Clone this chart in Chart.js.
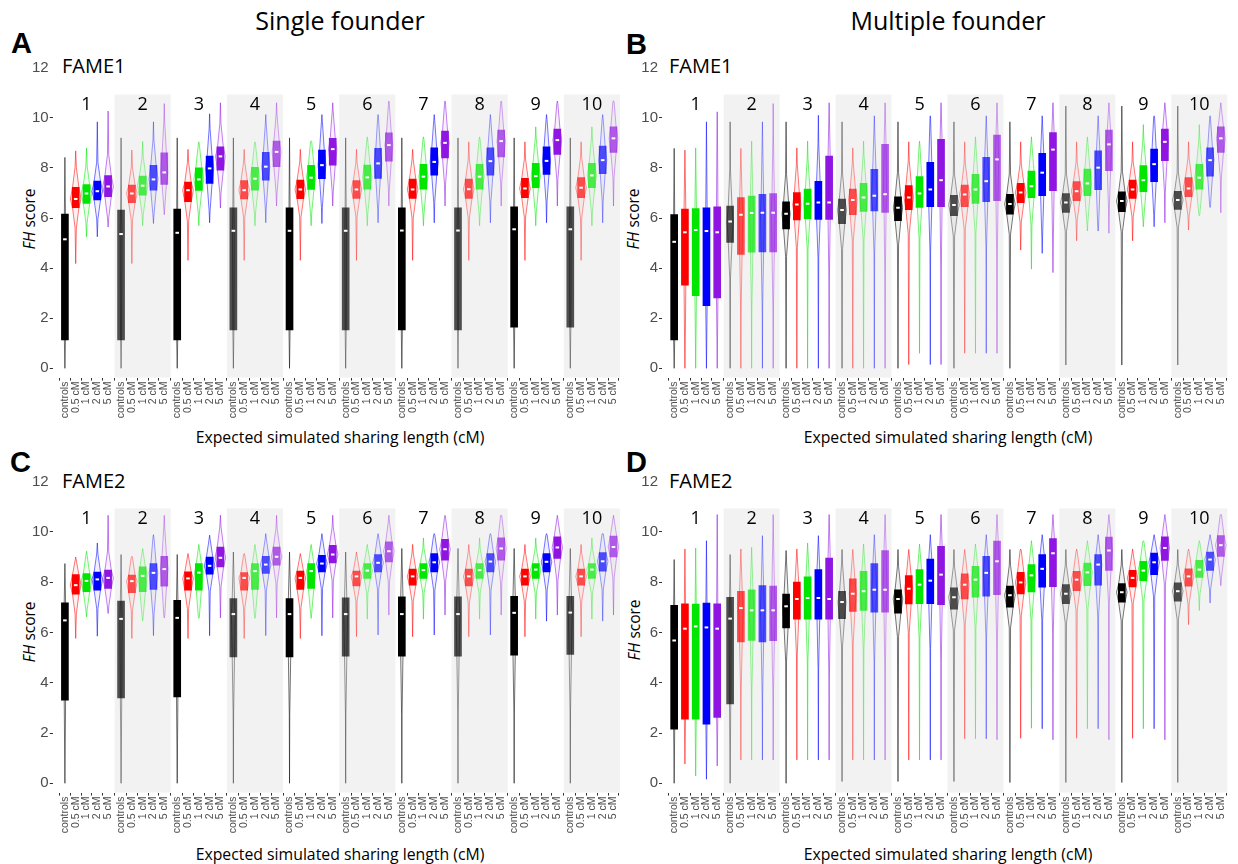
<!DOCTYPE html>
<html lang="en">
<head>
<meta charset="UTF-8">
<title>FH score by expected simulated sharing length</title>
<script src="https://cdn.jsdelivr.net/npm/chart.js"></script>
<style>
  body { margin: 0; background: #fff; }
  .page { position: relative; width: 1238px; height: 864px; overflow: hidden; font-family: "Open Sans", sans-serif; }
  .panel { position: absolute; }
  .txt { position: absolute; white-space: nowrap; color: #000; line-height: 1; }
  .head { font-size: 25px; transform: translateX(-50%); }
  .letter { font-family: "Liberation Sans", Arial, sans-serif; font-weight: bold; font-size: 29px; }
  .fame { font-size: 20px; }
  .ytitle { font-size: 15.5px; transform: translate(-50%, -50%) rotate(-90deg); }
  .xtitle { font-size: 15.8px; transform: translate(-50%, -50%); }
</style>
</head>
<body>
<div class="page" id="page">
  <div class="txt head" style="left:340px; top:8px">Single founder</div>
  <div class="txt head" style="left:948px; top:8px">Multiple founder</div>

  <div class="txt letter" style="left:11px; top:29px">A</div>
  <div class="txt letter" style="left:626px; top:30px">B</div>
  <div class="txt letter" style="left:10px; top:448px">C</div>
  <div class="txt letter" style="left:626px; top:448px">D</div>

  <div class="txt fame" style="left:62px; top:56px">FAME1</div>
  <div class="txt fame" style="left:669px; top:56px">FAME1</div>
  <div class="txt fame" style="left:62px; top:471px">FAME2</div>
  <div class="txt fame" style="left:669px; top:471px">FAME2</div>

  <div class="txt ytitle" style="left:30px; top:219px"><i>FH</i> score</div>
  <div class="txt ytitle" style="left:634px; top:219px"><i>FH</i> score</div>
  <div class="txt ytitle" style="left:30px; top:632px"><i>FH</i> score</div>
  <div class="txt ytitle" style="left:635px; top:630px"><i>FH</i> score</div>

  <div class="txt xtitle" style="left:340px; top:438px">Expected simulated sharing length (cM)</div>
  <div class="txt xtitle" style="left:948px; top:438px">Expected simulated sharing length (cM)</div>
  <div class="txt xtitle" style="left:340px; top:855px">Expected simulated sharing length (cM)</div>
  <div class="txt xtitle" style="left:948px; top:855px">Expected simulated sharing length (cM)</div>
</div>

<script>
// groups (facets) and categories inside each group
const groups = ['1', '2', '3', '4', '5', '6', '7', '8', '9', '10'];
const categories = ['controls', '0.5 cM', '1 cM', '2 cM', '5 cM'];
const yTicks = [0, 2, 4, 6, 8, 10, 12];

// each array: 10 groups x 5 categories (controls, 0.5, 1, 2, 5 cM)
// Panel A - single founder, FAME1
const aQ1 = [1.13,6.41,6.58,6.72,6.85, 1.13,6.61,6.91,7.11,7.34, 1.13,6.65,7.10,7.38,7.91, 1.53,6.76,7.11,7.51,8.05, 1.53,6.77,7.14,7.57,8.11,
             1.53,6.78,7.15,7.58,8.27, 1.53,6.78,7.15,7.71,8.40, 1.53,6.78,7.15,7.71,8.44, 1.64,6.81,7.21,7.74,8.54, 1.64,6.81,7.21,7.77,8.62];
const aMed = [5.15,6.76,6.98,7.07,7.26, 5.36,6.98,7.29,7.54,7.82, 5.41,7.11,7.54,7.98,8.46, 5.49,7.11,7.57,8.05,8.64, 5.49,7.14,7.61,8.11,8.75,
              5.49,7.14,7.62,8.18,8.91, 5.50,7.14,7.65,8.24,9.00, 5.50,7.15,7.65,8.27,9.07, 5.55,7.18,7.67,8.28,9.11, 5.55,7.21,7.70,8.31,9.18];
const aQ3 = [6.16,7.22,7.33,7.47,7.69, 6.32,7.31,7.67,8.10,8.60, 6.36,7.43,8.00,8.47,8.84, 6.41,7.49,8.02,8.62,9.07, 6.41,7.51,8.10,8.71,9.18,
             6.41,7.49,8.11,8.78,9.40, 6.41,7.55,8.14,8.80,9.47, 6.41,7.55,8.14,8.80,9.51, 6.45,7.58,8.18,8.84,9.55, 6.45,7.61,8.18,8.87,9.64];
const aLo = [0,4.18,5.25,5.25,5.64, 0,4.18,5.69,5.78,6.13, 0,4.31,5.69,5.81,6.40, 0,4.31,5.69,5.81,6.48, 0,4.31,5.69,5.78,6.48,
             0,4.31,5.69,5.81,6.48, 0,4.31,5.69,5.81,6.48, 0,4.31,5.69,5.81,6.48, 0,4.31,5.69,5.81,6.48, 0,4.31,5.69,5.81,6.48];
const aHi = [8.42,8.68,8.80,9.84,10.27, 9.20,8.71,9.06,9.84,10.57, 9.20,8.74,9.04,10.16,10.60, 9.20,8.74,9.04,10.13,10.60, 9.20,8.74,9.08,10.13,10.60,
             9.20,8.74,9.24,10.13,10.67, 9.20,8.74,9.24,10.13,10.67, 9.20,9.04,9.24,10.13,10.67, 9.20,9.04,9.64,10.13,10.67, 9.20,9.04,9.64,10.13,10.67];

// Panel B - multiple founder, FAME1
const bQ1 = [1.13,3.32,2.90,2.50,2.81, 5.03,4.55,4.64,4.65,4.65, 5.56,5.92,5.97,5.94,5.94, 5.77,6.13,6.26,6.28,6.22, 5.89,6.33,6.42,6.45,6.45,
             6.09,6.45,6.58,6.65,6.69, 6.15,6.61,6.81,6.89,7.09, 6.22,6.69,6.89,7.13,7.89, 6.25,6.78,7.05,7.45,8.29, 6.34,6.85,7.15,7.67,8.62];
const bMed = [5.05,5.43,5.52,5.48,5.43, 5.86,6.13,6.20,6.21,6.21, 6.17,6.54,6.57,6.62,6.62, 6.32,6.72,6.82,6.89,6.95, 6.41,6.82,6.98,7.14,7.51,
              6.52,6.94,7.14,7.47,8.34, 6.56,7.02,7.27,7.81,8.73, 6.62,7.07,7.38,8.01,8.94, 6.68,7.14,7.51,8.15,9.04, 6.72,7.18,7.61,8.31,9.18];
const bQ3 = [6.14,6.36,6.38,6.41,6.45, 6.48,6.82,6.88,6.95,6.98, 6.65,7.02,7.15,7.46,8.47, 6.76,7.15,7.38,7.94,8.94, 6.85,7.29,7.65,8.22,9.14,
             6.91,7.31,7.74,8.42,9.31, 6.95,7.38,7.87,8.58,9.41, 6.98,7.45,7.95,8.68,9.51, 7.05,7.51,8.09,8.75,9.55, 7.07,7.61,8.14,8.80,9.64];
const bLo = [0,0,0,0,0, 0,0,0,0,0, 0,0,0,0,0, 0,0,0,0,0, 0,0.15,0.60,0.15,0.15,
             0,0.60,0.60,0.60,0.60, 0,4.72,3.96,4.59,3.82, 0.13,5.09,5.48,5.48,5.39, 0.13,5.09,5.65,5.65,5.81, 0.13,5.52,6.09,6.42,6.21];
const bHi = [8.78,8.71,8.80,9.84,10.24, 9.84,8.78,9.07,9.84,10.57, 9.84,8.80,9.07,10.10,10.60, 9.84,8.80,9.07,10.08,10.60, 9.84,9.04,9.07,10.08,10.60,
             9.84,9.04,9.24,10.08,10.60, 9.84,9.04,9.24,10.08,10.60, 10.47,9.04,9.24,10.08,10.60, 10.47,9.04,9.73,10.08,10.60, 10.47,9.04,9.73,10.08,10.60];

// Panel C - single founder, FAME2
const cQ1 = [3.31,7.52,7.62,7.68,7.75, 3.40,7.58,7.62,7.71,7.84, 3.44,7.68,7.68,8.32,8.61, 5.03,7.68,7.71,8.35,8.68, 5.03,7.71,7.75,8.41,8.77,
             5.06,7.85,8.15,8.41,8.81, 5.06,7.88,8.15,8.41,8.87, 5.06,7.85,8.15,8.41,8.87, 5.10,7.88,8.15,8.41,8.94, 5.13,7.88,8.15,8.44,9.00];
const cMed = [6.48,7.88,8.05,8.11,8.17, 6.54,8.04,8.25,8.37,8.52, 6.58,8.15,8.38,8.65,8.97, 6.73,8.17,8.44,8.70,9.01, 6.73,8.17,8.44,8.74,9.10,
              6.73,8.23,8.46,8.77,9.23, 6.73,8.23,8.48,8.79,9.31, 6.73,8.23,8.48,8.82,9.34, 6.78,8.23,8.50,8.81,9.38, 6.79,8.23,8.50,8.83,9.40];
const cQ3 = [7.18,8.30,8.34,8.40,8.48, 7.25,8.28,8.61,8.74,9.03, 7.28,8.41,8.74,9.00,9.40, 7.35,8.38,8.74,9.03,9.40, 7.35,8.44,8.74,9.07,9.47,
             7.38,8.44,8.74,9.10,9.60, 7.42,8.52,8.74,9.14,9.70, 7.42,8.52,8.74,9.14,9.76, 7.44,8.52,8.74,9.14,9.80, 7.44,8.52,8.74,9.18,9.83];
const cLo = [0,5.76,6.62,5.85,6.75, 0,5.76,6.46,5.87,6.58, 0,5.76,6.56,5.87,6.58, 0,5.76,6.56,5.87,6.58, 0,5.76,6.56,5.87,6.58,
             0,5.83,6.53,5.90,6.69, 0,5.83,6.53,5.90,6.69, 0,5.83,6.53,5.90,6.69, 0,5.83,6.53,6.45,6.69, 0,5.83,6.53,6.45,6.69];
const cHi = [8.74,9.00,9.23,9.56,10.66, 9.10,9.03,9.34,9.89,10.66, 9.10,9.14,9.50,9.87,10.66, 9.20,9.14,9.50,9.93,10.66, 9.20,9.14,9.50,9.93,10.66,
             9.20,9.20,9.50,9.93,10.66, 9.34,9.50,9.76,9.93,10.66, 9.34,9.50,9.76,9.93,10.66, 9.34,9.50,9.76,9.93,10.66, 9.34,9.50,9.76,9.93,10.66];

// Panel D - multiple founder, FAME2
const dQ1 = [2.15,2.55,2.55,2.35,2.62, 3.16,5.62,5.68,5.62,5.67, 6.18,6.53,6.53,6.53,6.53, 6.55,6.84,6.88,6.81,6.81, 6.77,7.13,7.14,7.14,7.10,
             6.93,7.33,7.40,7.44,7.50, 7.01,7.53,7.61,7.80,7.82, 7.14,7.66,7.86,7.88,8.47, 7.20,7.81,8.06,8.30,8.86, 7.24,7.84,8.19,8.47,9.02];
const dMed = [5.68,6.15,6.24,6.20,6.15, 6.55,6.97,6.88,6.88,6.88, 7.04,7.33,7.37,7.37,7.33, 7.21,7.54,7.64,7.70,7.70, 7.33,7.74,7.90,8.06,8.30,
              7.40,7.90,8.10,8.37,8.83, 7.48,7.99,8.27,8.53,9.15, 7.54,8.10,8.39,8.70,9.26, 7.60,8.17,8.46,8.79,9.36, 7.64,8.23,8.50,8.90,9.47];
const dQ3 = [7.08,7.14,7.13,7.17,7.14, 7.40,7.64,7.70,7.86,7.84, 7.53,8.00,8.21,8.50,8.96, 7.64,8.13,8.43,8.74,9.26, 7.70,8.26,8.50,8.92,9.43,
             7.77,8.33,8.63,9.03,9.63, 7.84,8.39,8.70,9.10,9.73, 7.90,8.43,8.76,9.10,9.79, 7.94,8.47,8.83,9.16,9.80, 7.97,8.53,8.87,9.20,9.85];
const dLo = [0,0.77,0.29,0.16,0.69, 0,0.93,0.93,0.93,0.93, 0,0.93,0.93,0.93,0.93, 0.07,0.93,0.93,0.93,0.93, 0.07,0.93,0.93,0.93,0.93,
             0.07,1.77,1.77,1.77,1.73, 0.03,1.79,2.19,2.17,1.73, 0.03,1.79,2.17,2.17,1.73, 0.03,1.79,2.17,2.17,1.73, 0.03,6.31,6.87,7.17,7.86];
const dHi = [8.90,9.32,9.36,9.65,10.69, 9.10,9.32,9.39,9.85,10.69, 9.26,9.32,9.56,9.85,10.69, 9.30,9.30,9.52,9.89,10.69, 9.30,9.30,9.52,9.89,10.69,
             9.30,9.30,9.52,9.89,10.69, 9.30,9.32,9.65,9.89,10.69, 9.30,9.32,9.65,9.89,10.69, 9.30,9.32,9.65,9.89,10.69, 9.30,9.32,9.65,9.89,10.69];

const hues = ['0,0,0', '255,0,0', '0,230,0', '0,0,255', '144,20,226'];
const yMin = -0.37, yMax = 12, stripTop = 10.93;
const groupSpan = 5.2;   // ggplot discrete expansion: 0.6 on both sides
const xPos = [];
groups.forEach((g, gi) => categories.forEach((c, ci) => xPos.push(gi * groupSpan + 0.6 + ci)));

function col(k, a) {
    const even = Math.floor(k / 5) % 2 === 1;
    return 'rgba(' + hues[k % 5] + ',' + (even ? a * 0.68 : a) + ')';
}

function boxViolinPlugin(st) {
    return {
        id: 'boxViolin',
        beforeDraw(chart) {
            const {ctx, chartArea, scales: {x, y}} = chart;
            const top = y.getPixelForValue(stripTop);
            ctx.save();
            groups.forEach((g, gi) => {
                const x0 = x.getPixelForValue(gi * groupSpan), x1 = x.getPixelForValue((gi + 1) * groupSpan);
                if (gi % 2 === 1) {
                    ctx.fillStyle = '#F2F2F2';
                    ctx.fillRect(x0, top, x1 - x0, chartArea.bottom - top);
                }
                ctx.fillStyle = '#000';
                ctx.font = '18px "Open Sans"';
                ctx.textAlign = 'center';
                ctx.textBaseline = 'middle';
                ctx.fillText(g, (x0 + x1) / 2, top + 10);
            });
            ctx.restore();
        },
        beforeDatasetsDraw(chart) {
            const {ctx, scales: {x, y}} = chart;
            ctx.save();
            xPos.forEach((p, k) => {
                const lo = st.lo[k], q1 = st.q1[k], md = st.med[k], q3 = st.q3[k], hi = st.hi[k];
                const iqr = q3 - q1;
                const w = Math.min(5.3, 4.5 / iqr);
                const pts = [[lo, 0]];
                if (q1 - iqr > lo) pts.push([q1 - iqr, 0.12]);
                pts.push([q1, 0.6], [md, 1], [q3, 0.6]);
                if (q3 + iqr < hi) pts.push([q3 + iqr, 0.12]);
                pts.push([hi, 0]);
                const cx = x.getPixelForValue(p);
                ctx.beginPath();
                pts.forEach((pt, i) => {
                    const py = y.getPixelForValue(pt[0]);
                    if (i === 0) ctx.moveTo(cx + pt[1] * w, py); else ctx.lineTo(cx + pt[1] * w, py);
                });
                for (let i = pts.length - 1; i >= 0; i--) ctx.lineTo(cx - pts[i][1] * w, y.getPixelForValue(pts[i][0]));
                ctx.closePath();
                ctx.fillStyle = col(k, 0.06);
                ctx.fill();
                ctx.strokeStyle = col(k, 0.6);
                ctx.lineWidth = 0.9;
                ctx.stroke();
            });
            ctx.restore();
        },
        afterDatasetsDraw(chart) {
            const {ctx, scales: {x, y}} = chart;
            ctx.save();
            ctx.fillStyle = '#fff';
            xPos.forEach((p, k) => {
                ctx.fillRect(x.getPixelForValue(p) - 1.8, y.getPixelForValue(st.med[k]) - 1, 3.6, 2);
            });
            ctx.restore();
        }
    };
}

function makePanel(cfg) {
    const div = document.createElement('div');
    div.className = 'panel';
    div.style.left = cfg.left + 'px';
    div.style.top = cfg.top + 'px';
    const canvas = document.createElement('canvas');
    canvas.width = cfg.width;
    canvas.height = cfg.height;
    div.appendChild(canvas);
    document.getElementById('page').appendChild(div);

    const st = cfg.stats;
    new Chart(canvas, {
        type: 'bar',
        data: {
            datasets: [{
                data: xPos.map((p, k) => ({x: p, y: [st.q1[k], st.q3[k]]})),
                backgroundColor: xPos.map((p, k) => col(k, 1)),
                borderWidth: 0,
                barThickness: 7
            }]
        },
        options: {
            responsive: false,
            animation: false,
            devicePixelRatio: 1,
            layout: {padding: {top: cfg.padTop, right: cfg.padRight, left: 0, bottom: 0}},
            plugins: {legend: {display: false}, tooltip: {enabled: false}},
            scales: {
                x: {
                    type: 'linear',
                    min: 0,
                    max: groups.length * groupSpan,
                    afterBuildTicks: s => { s.ticks = xPos.map(v => ({value: v})); },
                    afterFit: s => { s.height = cfg.xH; s.paddingLeft = 0; s.paddingRight = 0; },
                    ticks: {
                        autoSkip: false,
                        minRotation: 90,
                        maxRotation: 90,
                        padding: 1,
                        color: '#4D4D4D',
                        font: {family: '"Liberation Sans", Arial', size: 10.5},
                        callback: (v, i) => categories[i % 5]
                    },
                    grid: {drawOnChartArea: false, drawTicks: true, tickLength: 3, tickColor: '#333'},
                    border: {display: false}
                },
                y: {
                    type: 'linear',
                    min: yMin,
                    max: yMax,
                    afterBuildTicks: s => { s.ticks = yTicks.map(v => ({value: v})); },
                    afterFit: s => { s.width = cfg.yW; s.paddingTop = 0; s.paddingBottom = 0; },
                    ticks: {
                        padding: 1,
                        color: '#4D4D4D',
                        font: {family: '"Liberation Sans", Arial', size: 15},
                        callback: v => String(v)
                    },
                    grid: {
                        drawOnChartArea: false,
                        drawTicks: true,
                        tickLength: 3,
                        tickColor: c => (c.tick && c.tick.value === 12) ? 'rgba(0,0,0,0)' : '#333'
                    },
                    border: {display: false}
                }
            }
        },
        plugins: [boxViolinPlugin(st)]
    });
}

makePanel({left: 0, top: 55, width: 630, height: 380, yW: 52.7, padTop: 12.7, padRight: 4.3, xH: 57.4,
           stats: {q1: aQ1, med: aMed, q3: aQ3, lo: aLo, hi: aHi}});
makePanel({left: 610, top: 55, width: 628, height: 380, yW: 52, padTop: 12.7, padRight: 5, xH: 57.4,
           stats: {q1: bQ1, med: bMed, q3: bQ3, lo: bLo, hi: bHi}});
makePanel({left: 0, top: 469, width: 630, height: 390, yW: 52.7, padTop: 12.6, padRight: 4.3, xH: 66.4,
           stats: {q1: cQ1, med: cMed, q3: cQ3, lo: cLo, hi: cHi}});
makePanel({left: 610, top: 469, width: 628, height: 390, yW: 52, padTop: 12.6, padRight: 5, xH: 66.4,
           stats: {q1: dQ1, med: dMed, q3: dQ3, lo: dLo, hi: dHi}});
</script>
</body>
</html>
